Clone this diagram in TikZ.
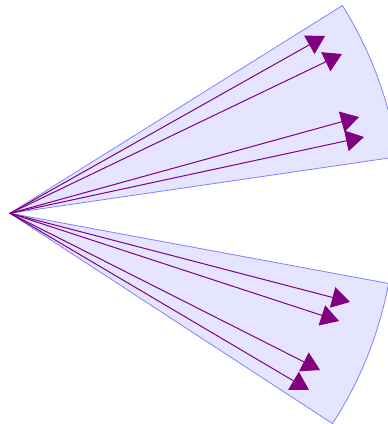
\documentclass[tikz,border=0pt]{standalone}
\usetikzlibrary{arrows.meta}
\definecolor{webpurple}{RGB}{128,0,128}
\tikzset{
  sector/.style={draw=blue!50, fill=blue!10, line width=0.8pt},
  ray/.style={draw=webpurple, line width=1pt, -{Triangle[length=18pt,width=21pt]}}
}
\begin{document}
\begin{tikzpicture}[x=1pt,y=1pt]
\useasboundingbox (0,0) rectangle (388,424);
\clip (0,0) rectangle (388,424);
\coordinate (O) at (10,210.7);
% sectors
\path[sector] (O) -- ++(8.3:392) arc[start angle=8.3, end angle=32, radius=392] -- cycle;
\path[sector] (O) -- ++(-33.1:385) arc[start angle=-33.1, end angle=-10.5, radius=385] -- cycle;
% arrow tips
\coordinate (t1) at (325,388);
\coordinate (t2) at (342,370);
\coordinate (t3) at (359,307);
\coordinate (t4) at (364,287);
\coordinate (t5) at (350,122);
\coordinate (t6) at (339,103);
\coordinate (t7) at (320,54);
\coordinate (t8) at (309,34);
\foreach \t in {t1,t2,t3,t4,t5,t6,t7,t8}
  \draw[ray] (O) -- (\t);
\end{tikzpicture}
\end{document}
